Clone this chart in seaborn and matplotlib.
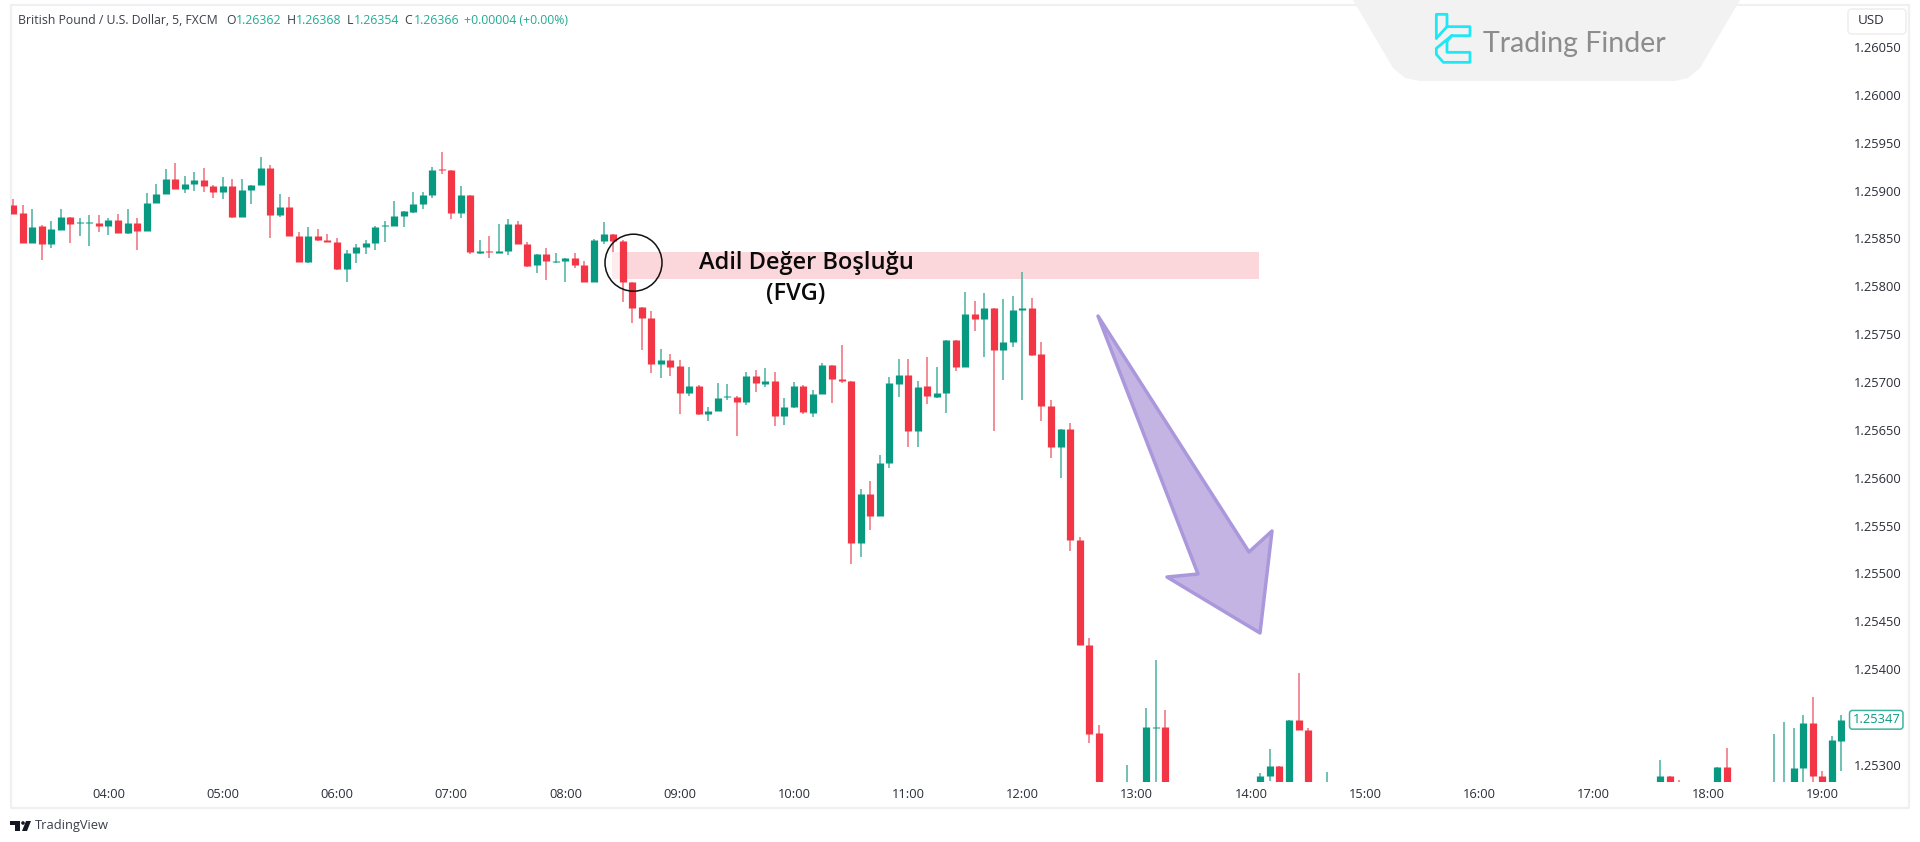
import numpy as np
import pandas as pd
import seaborn as sns
import matplotlib
matplotlib.use("Agg")
import matplotlib.pyplot as plt
import matplotlib.transforms as mtransforms
from matplotlib.patches import Polygon, Circle, FancyBboxPatch, Rectangle
from matplotlib.lines import Line2D

bars = list(range(0, 115)) + [117, 119, 120, 121, 131, 132, 133, 134, 135, 136, 138,
                              173, 174, 175, 179, 180, 185, 186, 187, 188, 189, 190, 191, 192]

open_ = [1.25885,1.25877,1.25845,1.25863,1.25844,1.25859,1.25872,1.25866,1.25866,1.25866,
1.25863,1.25869,1.25856,1.25866,1.25858,1.25887,1.25897,1.25912,1.25902,1.25907,
1.25911,1.25905,1.25899,1.25905,1.25872,1.25901,1.25906,1.25924,1.25875,1.25883,
1.25853,1.25825,1.25853,1.25848,1.25846,1.25818,1.25835,1.25841,1.25845,1.25863,
1.25863,1.25873,1.25878,1.25886,1.25895,1.25923,1.25922,1.25877,1.25895,1.25835,
1.25837,1.25835,1.25837,1.25865,1.25844,1.25822,1.25834,1.25825,1.25826,1.25830,
1.25822,1.25805,1.25847,1.25855,1.25847,1.25804,1.25778,1.25767,1.25719,1.25723,
1.25717,1.25688,1.25696,1.25667,1.25670,1.25684,1.25684,1.25679,1.25706,1.25698,
1.25701,1.25665,1.25674,1.25696,1.25668,1.25687,1.25718,1.25703,1.25701,1.25532,
1.25583,1.25560,1.25615,1.25698,1.25707,1.25649,1.25696,1.25684,1.25688,1.25744,
1.25716,1.25771,1.25766,1.25777,1.25733,1.25742,1.25775,1.25777,1.25729,1.25675,
1.25632,1.25651,1.25535,1.25425,1.25333,
1.25250,1.25250,1.25338,1.25339,1.25270,1.25288,1.25299,1.25250,1.25347,1.25336,1.25260,
1.25260,1.25288,1.25270,1.25250,1.25298,1.25250,1.25250,1.25250,1.25297,1.25344,1.25288,1.25250,1.25325]

high = [1.25891,1.25885,1.25881,1.25864,1.25868,1.25881,1.25872,1.25871,1.25875,1.25875,
1.25871,1.25876,1.25881,1.25871,1.25898,1.25907,1.25923,1.25929,1.25915,1.25919,
1.25924,1.25906,1.25914,1.25912,1.25912,1.25906,1.25935,1.25927,1.25896,1.25893,
1.25857,1.25862,1.25860,1.25855,1.25850,1.25838,1.25844,1.25848,1.25863,1.25868,
1.25889,1.25879,1.25899,1.25899,1.25925,1.25940,1.25922,1.25905,1.25895,1.25848,
1.25853,1.25865,1.25870,1.25868,1.25846,1.25834,1.25840,1.25835,1.25830,1.25835,
1.25826,1.25849,1.25867,1.25855,1.25848,1.25805,1.25778,1.25774,1.25735,1.25729,
1.25723,1.25716,1.25697,1.25674,1.25699,1.25698,1.25685,1.25710,1.25713,1.25715,
1.25710,1.25683,1.25700,1.25697,1.25692,1.25720,1.25718,1.25739,1.25701,1.25588,
1.25597,1.25624,1.25705,1.25724,1.25724,1.25701,1.25726,1.25716,1.25744,1.25744,
1.25794,1.25785,1.25793,1.25777,1.25787,1.25790,1.25815,1.25788,1.25742,1.25681,
1.25651,1.25657,1.25538,1.25432,1.25342,
1.25300,1.25359,1.25410,1.25357,1.25291,1.25317,1.25299,1.25347,1.25396,1.25338,1.25292,
1.25305,1.25288,1.25284,1.25298,1.25318,1.25332,1.25345,1.25338,1.25352,1.25371,1.25294,1.25330,1.25352]

low = [1.25876,1.25845,1.25845,1.25827,1.25840,1.25859,1.25845,1.25853,1.25842,1.25857,
1.25854,1.25856,1.25855,1.25838,1.25858,1.25887,1.25897,1.25902,1.25898,1.25900,
1.25899,1.25892,1.25891,1.25871,1.25872,1.25886,1.25906,1.25851,1.25872,1.25853,
1.25825,1.25824,1.25847,1.25846,1.25817,1.25804,1.25824,1.25834,1.25838,1.25846,
1.25863,1.25862,1.25877,1.25881,1.25892,1.25917,1.25870,1.25871,1.25834,1.25834,
1.25830,1.25835,1.25833,1.25844,1.25820,1.25814,1.25807,1.25824,1.25804,1.25819,
1.25805,1.25805,1.25844,1.25836,1.25784,1.25762,1.25733,1.25709,1.25704,1.25706,
1.25667,1.25685,1.25666,1.25659,1.25670,1.25681,1.25644,1.25676,1.25690,1.25695,
1.25654,1.25655,1.25673,1.25667,1.25663,1.25687,1.25678,1.25699,1.25510,1.25517,
1.25545,1.25560,1.25610,1.25684,1.25632,1.25632,1.25677,1.25683,1.25668,1.25712,
1.25716,1.25753,1.25726,1.25649,1.25702,1.25737,1.25681,1.25727,1.25659,1.25621,
1.25600,1.25523,1.25425,1.25323,1.25250,
1.25240,1.25240,1.25240,1.25240,1.25260,1.25283,1.25250,1.25240,1.25336,1.25240,1.25250,
1.25250,1.25250,1.25250,1.25240,1.25240,1.25240,1.25240,1.25240,1.25240,1.25270,1.25250,1.25240,1.25294]

close = [1.25876,1.25845,1.25862,1.25844,1.25860,1.25872,1.25865,1.25867,1.25867,1.25863,
1.25869,1.25856,1.25866,1.25858,1.25887,1.25897,1.25912,1.25902,1.25907,1.25911,
1.25905,1.25899,1.25905,1.25872,1.25901,1.25906,1.25924,1.25875,1.25883,1.25853,
1.25825,1.25853,1.25848,1.25846,1.25818,1.25835,1.25841,1.25845,1.25862,1.25864,
1.25873,1.25879,1.25886,1.25895,1.25922,1.25922,1.25877,1.25895,1.25836,1.25837,
1.25836,1.25837,1.25865,1.25844,1.25821,1.25834,1.25826,1.25826,1.25830,1.25822,
1.25805,1.25848,1.25855,1.25847,1.25804,1.25777,1.25767,1.25719,1.25723,1.25716,
1.25688,1.25696,1.25667,1.25670,1.25683,1.25685,1.25679,1.25706,1.25699,1.25701,
1.25665,1.25674,1.25696,1.25669,1.25687,1.25718,1.25703,1.25701,1.25532,1.25583,
1.25560,1.25615,1.25699,1.25707,1.25649,1.25695,1.25685,1.25688,1.25744,1.25716,
1.25771,1.25766,1.25777,1.25733,1.25742,1.25775,1.25777,1.25728,1.25675,1.25632,
1.25651,1.25535,1.25425,1.25332,1.25270,
1.25270,1.25339,1.25339,1.25250,1.25288,1.25299,1.25260,1.25347,1.25336,1.25250,1.25270,
1.25288,1.25260,1.25260,1.25298,1.25250,1.25270,1.25270,1.25297,1.25344,1.25288,1.25260,1.25326,1.25347]

time_labels = ["04:00","05:00","06:00","07:00","08:00","09:00","10:00","11:00",
               "12:00","13:00","14:00","15:00","16:00","17:00","18:00","19:00"]
time_bars = [10 + 12 * k for k in range(len(time_labels))]
price_ticks = [1.26050,1.26000,1.25950,1.25900,1.25850,1.25800,1.25750,1.25700,
               1.25650,1.25600,1.25550,1.25500,1.25450,1.25400,1.25350,1.25300]
fvg_low, fvg_high = 1.25808, 1.25836
fvg_bars = (63.9, 130.9)

UP, DOWN = "#089981", "#f23645"
UP_WICK, DOWN_WICK = "#4fb5a3", "#f0737f"

sns.set_theme(style="white")
plt.rcParams["font.family"] = ["Open Sans", "DejaVu Sans"]
W, H = 1920, 842
fig = plt.figure(figsize=(W / 100, H / 100), dpi=100, facecolor="white")
px = mtransforms.Affine2D().scale(1, -1).translate(0, H)

# candle pane: x 11..1845 px, y 5..782 px
ax = fig.add_axes([11 / W, 1 - 782 / H, (1845 - 11) / W, (782 - 5) / H])
ax.patch.set_alpha(0)

df = pd.DataFrame({"bar": bars, "open": open_, "high": high, "low": low, "close": close})
df["dir"] = np.where(df["close"] >= df["open"], "up", "down")
df["top"] = df[["open", "close"]].max(axis=1)
df["bot"] = df[["open", "close"]].min(axis=1)
wicks = df.melt(id_vars=["bar", "dir"], value_vars=["high", "low"], value_name="price")
bodies = df.melt(id_vars=["bar", "dir"], value_vars=["top", "bot"], value_name="price")

sns.lineplot(data=wicks, x="bar", y="price", hue="dir", units="bar", estimator=None,
             palette={"up": UP_WICK, "down": DOWN_WICK}, linewidth=1.15, legend=False,
             ax=ax, zorder=3, solid_capstyle="butt", sort=False)
sns.lineplot(data=bodies, x="bar", y="price", hue="dir", units="bar", estimator=None,
             palette={"up": UP, "down": DOWN}, linewidth=5.2, legend=False,
             ax=ax, zorder=4, solid_capstyle="butt", sort=False)

ax.set_xlim((11 - 13.3) / 9.52, (1845 - 13.3) / 9.52)
ax.set_ylim(1.25282, 1.26094)
ax.fill_between(fvg_bars, fvg_low, fvg_high, color="#fbd6da", lw=0, zorder=1)
ax.fill_between((62.9, fvg_bars[0]), fvg_low, fvg_high, color="#fdeced", lw=0, zorder=1)

ax.set_xticks(time_bars, time_labels)
ax.set_yticks(price_ticks, [f"{p:.5f}" for p in price_ticks])
ax.yaxis.tick_right()
ax.tick_params(axis="both", length=0, labelsize=9.3, labelcolor="#2a2e39")
ax.tick_params(axis="x", pad=4.5)
ax.tick_params(axis="y", pad=6.5)
for lab in ax.get_yticklabels() + ax.get_xticklabels():
    lab.set_fontweight("medium")
ax.set_xlabel("")
ax.set_ylabel("")
for s in ax.spines.values():
    s.set_visible(False)

# last price tag
ax.annotate(f"{close[-1]:.5f}", xy=(1, close[-1]), xycoords=("axes fraction", "data"),
            xytext=(22.5, 0), textcoords="offset points", ha="center", va="center",
            fontsize=9.3, color=UP,
            bbox=dict(boxstyle="round,pad=0.22", fc="white", ec="#3fb39f", lw=1.1),
            annotation_clip=False, zorder=6)

# pane border
fig.add_artist(Rectangle((11, 5), 1898, 803, transform=px, fc="none", ec="#eff0f3", lw=1.6, zorder=-1))

# legend line
def t(x, y, s, color="#3a3e48", size=8.8, **kw):
    fig.text(x, y, s, transform=px, color=color, fontsize=size, va="center", ha=kw.pop("ha", "left"), **kw)

TEAL = "#22ab94"
t(18, 20, "British Pound / U.S. Dollar, 5, FXCM")
for x, s in [(226, "O"), (287, "H"), (347, "L"), (404, "C")]:
    t(x, 20, s)
for x, s in [(236, "1.26362"), (296, "1.26368"), (354, "1.26354"), (414, "1.26366"),
             (464, "+0.00004 (+0.00%)")]:
    t(x, 20, s, color=TEAL)

# FVG annotation
t(806, 263, "Adil Değer Boşluğu", color="#0a0a0a", size=17, ha="center", fontweight="semibold")
t(796, 294, "(FVG)", color="#0a0a0a", size=17, ha="center", fontweight="semibold")
fig.add_artist(Circle((633.5, 262.7), 28.5, transform=px, fc="none", ec="#111111", lw=1.1, zorder=5))

# purple arrow
fig.add_artist(Polygon([(1098, 316), (1249, 552), (1272, 531), (1260, 633), (1167, 577), (1198, 574)],
                       closed=True, transform=px, fc="#c4b4e3", ec="#ab98dc", lw=2.5,
                       joinstyle="round", zorder=5))

# Trading Finder panel
panel = Polygon([(1353, 0), (1740, 0), (1700, 68), (1688, 78), (1675, 81), (1420, 81), (1405, 78), (1393, 68)],
                closed=True, transform=px, fc="#f2f2f2", ec="none", zorder=2)
fig.add_artist(panel)
logo = [(34, 100), (34, 28), (66, 28), (66, 65), (135, 65), (135, 92), (80, 92), (34, 130),
        (34, 148), (55, 172), (135, 172), (135, 142), (66, 142), (66, 110), (80, 92)]
fig.add_artist(Line2D([1425 + a / 3 for a, _ in logo], [5 + b / 3 for _, b in logo], transform=px,
                      color="#1fe7f5", lw=2.0, zorder=3))
fig.add_artist(Line2D([1425 + 34 / 3, 1425 + 66 / 3], [5 + 100 / 3, 5 + 65 / 3], transform=px,
                      color="#1fe7f5", lw=2.0, zorder=3))
fig.text(1483, 44, "Trading Finder", transform=px, color="#8c8c8c", fontsize=20.5, va="center",
         family=["Lato", "DejaVu Sans"], fontweight="normal", zorder=3)

# USD box
fig.add_artist(FancyBboxPatch((1851, 12), 52, 19, boxstyle="round,pad=3,rounding_size=4", transform=px,
                              fc="white", ec="#eeeeee", lw=1.1, zorder=2))
fig.text(1871, 21, "USD", transform=px, color="#2a2e39", fontsize=9.6, ha="center", va="center", zorder=3)

# TradingView mark
fig.add_artist(Polygon([(10, 821), (20, 821), (20, 831), (15, 831), (15, 825), (10, 825)], closed=True,
                       transform=px, fc="#131722", ec="none"))
fig.add_artist(Circle((23, 823), 1.8, transform=px, fc="#131722", ec="none"))
fig.add_artist(Polygon([(26, 821), (31, 821), (27, 831), (22, 831)], closed=True, transform=px,
                       fc="#131722", ec="none"))
t(35, 826, "TradingView", color="#3a3e48", size=9.3)

fig.savefig("out.png", dpi=100, facecolor="white")
